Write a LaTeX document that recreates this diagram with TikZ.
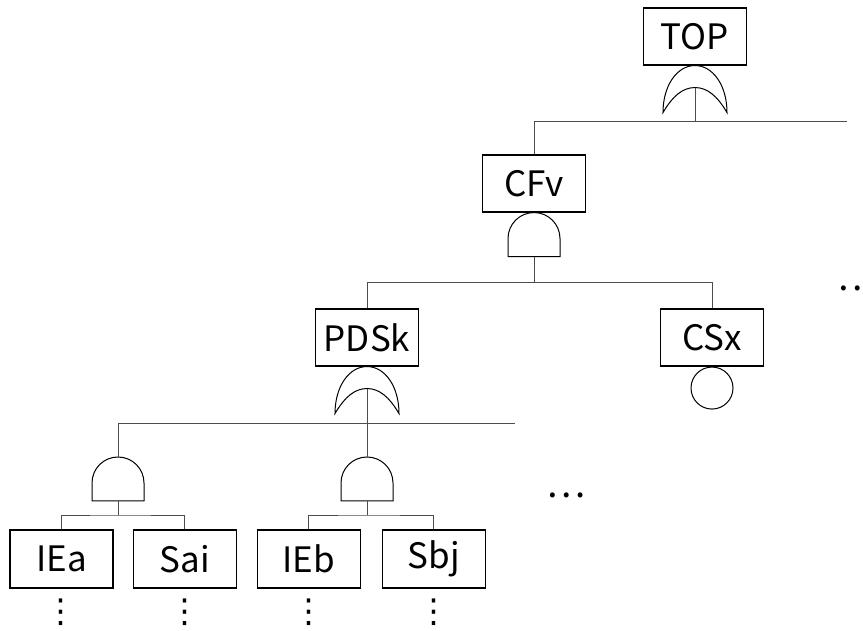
\documentclass[tikz,border=0pt]{standalone}
\usepackage{fontspec}
\setmainfont{Noto Sans CJK JP}
\newfontfamily\symbfont{DejaVu Sans}
\usetikzlibrary{positioning}

\begin{document}
\begin{tikzpicture}[x=1pt, y=1pt,
  orgate/.pic={
    \draw[line width=1pt, fill=white] (-32,-47) .. controls (-32,-20) and (-18,0) .. (0,0) .. controls (18,0) and (32,-20) .. (32,-47) .. controls (22,-30) and (12,-22) .. (0,-22) .. controls (-12,-22) and (-22,-30) .. (-32,-47) -- cycle;
    \coordinate (-in) at (0,-22);
  },
  andgate/.pic={
    \draw[line width=1pt, fill=white] (-26,-44) -- (-26,-26) arc (180:0:26pt) -- (26,-44) -- cycle;
    \coordinate (-top) at (0,0);
    \coordinate (-out) at (0,-44);
  }] % arbre de defaillance
  \tikzstyle{event} = [rectangle, draw, line width=1.1pt, minimum width=103pt, minimum height=57pt, inner sep=0pt, font=\fontsize{35}{40}\selectfont]
  \tikzstyle{conn} = [line width=0.7pt, black!70]
  \tikzstyle{dots} = [inner sep=0pt, font=\fontsize{37}{40}\selectfont]
  \tikzstyle{vdots} = [inner sep=0pt, font=\symbfont\fontsize{33}{40}\selectfont]
  \useasboundingbox (0,0) rectangle (863,630);
  % evenements
  \node[event] (TOP) at (695,593.5) {TOP};
  \node[event] (CFv) at (534,446.5) {CFv};
  \node[event] (PDSk) at (367,292.5) {PDSk};
  \node[event] (CSx) at (712,292.5) {CSx};
  \node[circle, draw, line width=1pt, minimum size=42pt, inner sep=0pt, below=0pt of CSx] (CSxb) {};
  \node[event, minimum height=58pt] (IEa) at (61.5,71) {IEa};
  \node[event, minimum height=58pt, right=19pt of IEa] (Sai) {Sai};
  \node[event, minimum height=58pt, right=20pt of Sai] (IEb) {IEb};
  \node[event, minimum height=58pt, right=21pt of IEb] (Sbj) {Sbj};
  % portes
  \pic (gTOP) at (TOP.south) {orgate};
  \pic (gCFv) at (CFv.south) {andgate};
  \pic (gPDSk) at (PDSk.south) {orgate};
  \pic (gL) at (118,173) {andgate};
  \pic (gR) at (367,173) {andgate};
  % liaisons
  \coordinate (b1) at (847,509);
  \draw[conn] (gTOP-in) |- (b1);
  \draw[conn] (CFv.north) |- (gTOP-in |- b1);
  \draw[conn] (gCFv-out) -- ++(0,-26) coordinate (b2);
  \draw[conn] (PDSk.north) |- (b2) -| (CSx.north);
  \coordinate (b3) at (515,207);
  \draw[conn] (gPDSk-in) -- (gR-top);
  \draw[conn] (gL-top) |- (b3);
  \foreach \g/\a/\b in {gL/IEa/Sai, gR/IEb/Sbj}
  {
    \draw[conn] (\g-out) -- ++(0,-14) coordinate (s\g);
    \draw[conn] (\a.north) |- (s\g) -| (\b.north);
  }
  % suite
  \foreach \n in {IEa,Sai,IEb,Sbj}
  {
    \node[vdots] (\n d) at ([yshift=-24pt]\n.south) {⋮};
  }
  \node[dots] (more1) at (566,135) {…};
  \node[dots] (more2) at (857,342) {…};
\end{tikzpicture}
\end{document}
